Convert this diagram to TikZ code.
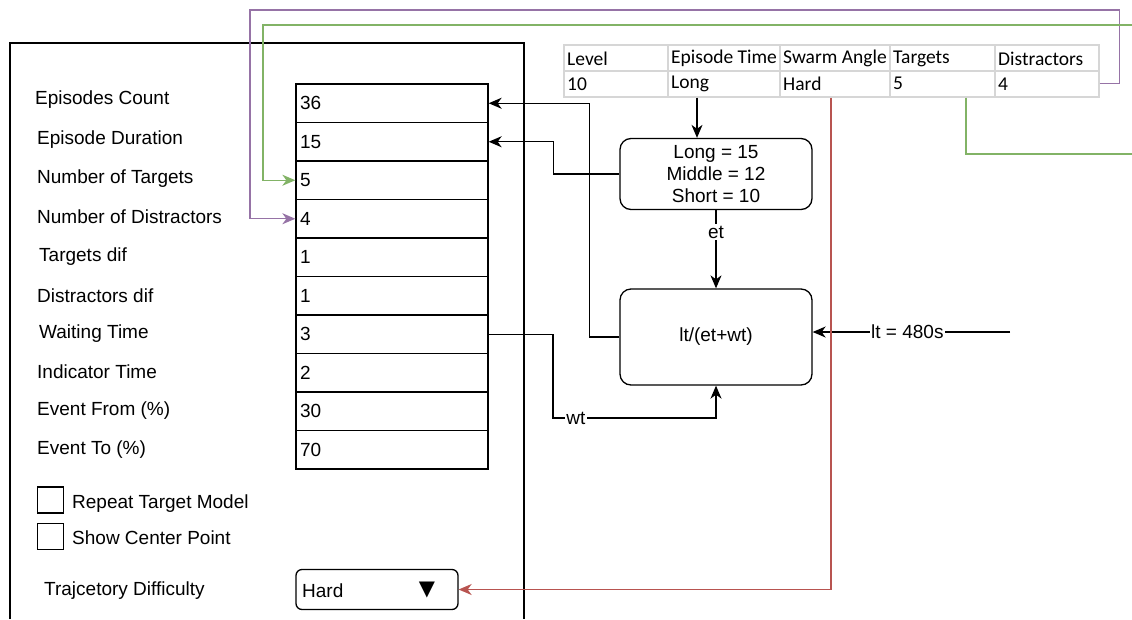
\documentclass[tikz,border=0pt]{standalone}
\usepackage{fontspec}
\setmainfont{Liberation Sans}
\newfontfamily\tablefont{Carlito}
\newfontfamily\symbolfont{DejaVu Sans}
\usetikzlibrary{arrows.meta,calc}
\definecolor{linkpurple}{HTML}{9673A6}
\definecolor{linkgreen}{HTML}{82B366}
\definecolor{linkred}{HTML}{B85450}
\definecolor{gridgrey}{HTML}{D6D6D6}
\tikzset{
  ui/.style={font=\fontsize{19}{22}\selectfont},
  field/.style={draw, line width=1.3pt, minimum width=192pt, minimum height=38.5pt,
    text width=184pt, align=left, inner sep=0pt, ui},
  lbl/.style={anchor=west, inner sep=0pt, ui},
  cell/.style={draw=gridgrey, line width=1.5pt, anchor=north west, minimum height=26pt,
    inner sep=0pt},
  celltext/.style={anchor=west, inner sep=0pt, font=\tablefont\fontsize{19.5}{22}\selectfont},
  calc box/.style={draw, line width=1.3pt, rounded corners=11pt, minimum width=192pt,
    align=center, inner sep=0pt, ui},
  checkbox/.style={draw, line width=1.3pt, minimum size=26pt, inner sep=0pt},
  tip/.style={-{Stealth[length=13pt,width=11pt,inset=4pt]}},
  arr/.style={line width=1.3pt, tip},
  purarr/.style={line width=1.3pt, draw=linkpurple, tip, color=linkpurple},
  grnarr/.style={line width=1.3pt, draw=linkgreen, tip, color=linkgreen},
  redarr/.style={line width=1.3pt, draw=linkred, tip, color=linkred},
  tag/.style={fill=white, inner sep=1.5pt, ui}
}
\begin{document}
\begin{tikzpicture}[x=1pt,y=-1pt]
\useasboundingbox (0,0) rectangle (1132,619);

% settings panel outline (runs off the lower edge)
\draw[line width=1.3pt] (10,619) -- (10,43) -- (524,43) -- (524,619);

% parameter labels
\node[lbl] (l1)  at (35,100)  {Episodes Count};
\node[lbl] (l2)  at (37,140) {Episode Duration};
\node[lbl] (l3)  at (37,179) {Number of Targets};
\node[lbl] (l4)  at (37,217) {Number of Distractors};
\node[lbl] (l5)  at (39,257) {Targets dif};
\node[lbl] (l6)  at (37,296) {Distractors dif};
\node[lbl] (l7)  at (39,334) {Waiting Time};
\node[lbl] (l8)  at (37,372) {Indicator Time};
\node[lbl] (l9)  at (37,411) {Event From (\%)};
\node[lbl] (l10) at (37,450) {Event To (\%)};

% parameter value fields
\node[field] (f1)  at (392,103.25) {36};
\node[field] (f2)  at (392,141.75) {15};
\node[field] (f3)  at (392,180.25) {5};
\node[field] (f4)  at (392,218.75) {4};
\node[field] (f5)  at (392,257.25) {1};
\node[field] (f6)  at (392,295.75) {1};
\node[field] (f7)  at (392,334.25) {3};
\node[field] (f8)  at (392,372.75) {2};
\node[field] (f9)  at (392,411.25) {30};
\node[field] (f10) at (392,449.75) {70};

% check boxes
\node[checkbox] (cb1) at (50.5,500) {};
\node[lbl] (cbl1) at (72,504) {Repeat Target Model};
\node[checkbox] (cb2) at (50.5,536.5) {};
\node[lbl] (cbl2) at (72,538) {Show Center Point};

% trajectory difficulty drop-down
\node[lbl] (tdl) at (44,591) {Trajcetory Difficulty};
\node[draw, line width=1.3pt, rounded corners=6pt, minimum width=162pt, minimum height=40pt]
  (dd) at (377,589.5) {};
\node[lbl] (ddv) at (302,591) {Hard};
\node[inner sep=0pt, font=\symbolfont\fontsize{21}{22}\selectfont] (ddm) at (427,590) {▼};

% level table: cell frames, then left-aligned cell texts
\foreach \x/\w/\h/\d [count=\i] in
  {563/104/Level/10, 667/112/Episode Time/Long, 779/110/Swarm Angle/Hard,
   889/105/Targets/5, 994/104/Distractors/4}{
  \node[cell, minimum width=\w pt] (t\i h) at (\x,44) {};
  \node[cell, minimum width=\w pt] (t\i d) at (\x,70) {};
  \node[celltext] (t\i hl) at ([xshift=4pt,yshift=-1pt]t\i h.west) {\h};
  \node[celltext] (t\i dl) at ([xshift=4pt]t\i d.west) {\d};
}

% calculation boxes
\node[calc box, minimum height=71pt] (b1) at (716,174)
  {Long = 15\\Middle = 12\\Short = 10};
\node[calc box, minimum height=96pt] (b2) at (716,337) {lt/(et+wt)};

% connectors
\draw[arr] ([xshift=30pt]t2d.south west) -- ([xshift=30pt]t2d.south west |- b1.north);
\draw[arr] (b1.south) -- node[tag, pos=0.28] {et} (b2.north);
\draw[arr] (b1.west) -- ++(-66,0) |- (f2.east);
\draw[arr] (b2.west) -- ++(-30,0) |- (f1.east);
\coordinate (wtc) at (553,418);
\draw[arr] (f7.east) -| (wtc) -| node[tag, pos=0.07] {wt} (b2.south);
\coordinate (ltin) at (1010,332);
\draw[arr] (ltin) -- node[tag, pos=0.52] {lt = 480s} (ltin -| b2.east);

\draw[redarr] ([xshift=52pt]t3d.south west) |- (dd.east);
\draw[purarr] (t5d.east) -- ++(20,0) |- (250,10) |- (f4.west);
\begin{scope}
  \clip (0,0) rectangle (1132,619);
  \draw[grnarr] ([xshift=77pt]t4d.south west) |- (1150,154) -- (1150,25)
    -- (263,25) |- (f3.west);
\end{scope}
\end{tikzpicture}
\end{document}
